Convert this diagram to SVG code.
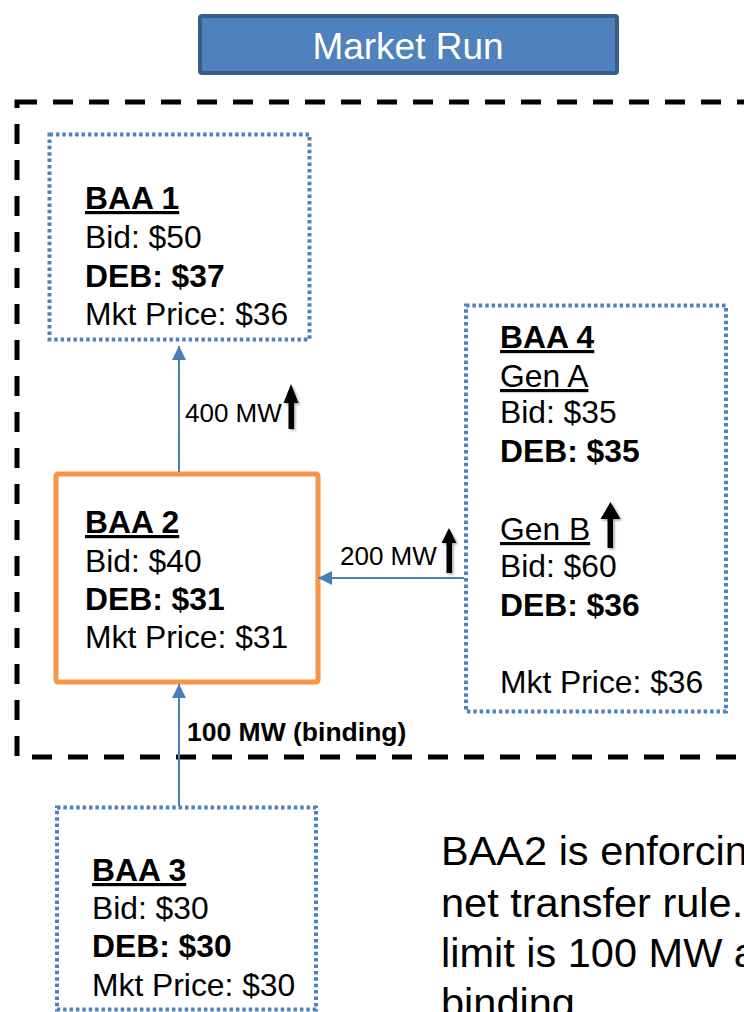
<svg xmlns="http://www.w3.org/2000/svg" width="744" height="1012" viewBox="0 0 744 1012">
<style>
  text { font-family: "Liberation Sans", Arial, sans-serif; fill: #000; }
  .t { font-size: 31.8px; }
  .b { font-weight: bold; }
  .u { text-decoration: underline; }
  .dot { fill: #fff; stroke: #4F81BD; stroke-width: 4; stroke-dasharray: 3.5 2.9; }
  .conn { stroke: #4A7EBB; stroke-width: 2; fill: none; }
  .lbl { font-size: 26px; }
  .big { font-size: 41.5px; }
</style>
<defs>
  <marker id="ah" viewBox="0 0 14 14" refX="14" refY="7" markerWidth="14" markerHeight="14" markerUnits="userSpaceOnUse" orient="auto">
    <path d="M0,0 L14,7 L0,14 z" fill="#4A7EBB"/>
  </marker>
  <filter id="sh" x="-50%" y="-20%" width="200%" height="150%">
    <feDropShadow dx="1.5" dy="1.5" stdDeviation="1" flood-color="#000" flood-opacity="0.35"/>
  </filter>
</defs>
<rect width="744" height="1012" fill="#fff"/>

<g id="title">
  <rect x="200" y="16" width="417" height="57" rx="2" fill="#4F81BD" stroke="#385D8A" stroke-width="4"/>
  <text x="408" y="59" text-anchor="middle" style="font-size:37px;fill:#fff">Market Run</text>
</g>

<g id="region">
  <rect x="17" y="102" width="770" height="655" fill="none" stroke="#000" stroke-width="5" stroke-dasharray="20 16"/>
</g>

<g id="baa1">
  <rect class="dot" x="49.5" y="134.5" width="260" height="205"/>
  <text class="t b u" x="85" y="209">BAA 1</text>
  <text class="t" x="85" y="248">Bid: $50</text>
  <text class="t b" x="85" y="287">DEB: $37</text>
  <text class="t" x="85" y="325">Mkt Price: $36</text>
</g>

<g id="baa2">
  <rect x="56" y="474" width="262" height="208" rx="2" fill="#fff" stroke="#F79646" stroke-width="5"/>
  <text class="t b u" x="85" y="533">BAA 2</text>
  <text class="t" x="85" y="572">Bid: $40</text>
  <text class="t b" x="85" y="610">DEB: $31</text>
  <text class="t" x="85" y="648">Mkt Price: $31</text>
</g>

<g id="baa4">
  <rect class="dot" x="466" y="305.5" width="260" height="406"/>
  <text class="t b u" x="500" y="348">BAA 4</text>
  <text class="t u" x="500" y="387">Gen A</text>
  <text class="t" x="500" y="423">Bid: $35</text>
  <text class="t b" x="500" y="462">DEB: $35</text>
  <text class="t u" x="500" y="540">Gen B</text>
  <text class="t" x="500" y="577">Bid: $60</text>
  <text class="t b" x="500" y="616">DEB: $36</text>
  <text class="t" x="500" y="693">Mkt Price: $36</text>
  <path filter="url(#sh)" d="M610.5,502 L620.5,519 L613,519 L613,548 L607.5,548 L607.5,519 L600.5,519 Z" fill="#000"/>
</g>

<g id="baa3">
  <rect class="dot" x="57" y="807.5" width="259" height="202"/>
  <text class="t b u" x="92" y="881">BAA 3</text>
  <text class="t" x="92" y="919">Bid: $30</text>
  <text class="t b" x="92" y="957">DEB: $30</text>
  <text class="t" x="92" y="996">Mkt Price: $30</text>
</g>

<g id="connectors">
  <line class="conn" x1="179" y1="472" x2="179" y2="346" marker-end="url(#ah)"/>
  <line class="conn" x1="179" y1="806" x2="179" y2="684" marker-end="url(#ah)"/>
  <line class="conn" x1="464" y1="578" x2="318" y2="578" marker-end="url(#ah)"/>
  <text class="lbl" x="185" y="422">400 MW</text>
  <path filter="url(#sh)" d="M291,384 L298.5,403 L294,403 L294,429 L288.5,429 L288.5,403 L283.5,403 Z" fill="#000"/>
  <text class="lbl" x="340" y="565">200 MW</text>
  <path filter="url(#sh)" d="M449,528 L456.5,543 L452,543 L452,573 L446.5,573 L446.5,543 L441.5,543 Z" fill="#000"/>
  <text class="lbl b" x="187" y="741" style="font-size:26.5px">100 MW (binding)</text>
</g>

<g id="note">
  <text class="big" x="441" y="865">BAA2 is enforcing</text>
  <text class="big" x="441" y="917">net transfer rule.</text>
  <text class="big" x="441" y="967">limit is 100 MW and</text>
  <text class="big" x="441" y="1017">binding.</text>
</g>
</svg>
